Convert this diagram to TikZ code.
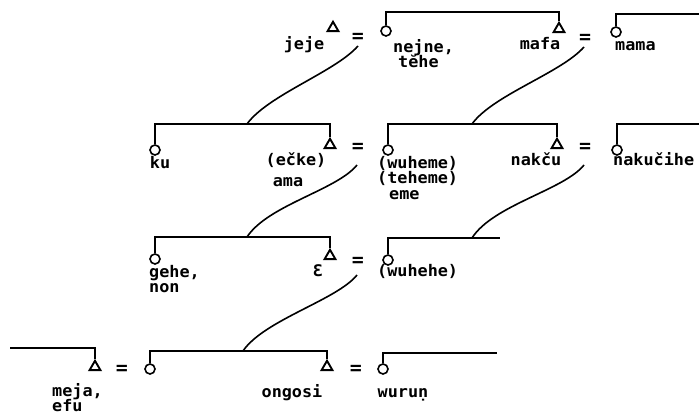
\documentclass[tikz,border=0pt]{standalone}
\usepackage{fontspec}
\newfontfamily\lblfont[FakeStretch=1.05,BoldFont={DejaVu Sans Mono Bold},BoldFeatures={FakeStretch=1.05}]{DejaVu Sans Mono}
\newcommand\lblsetup{\lblfont\bfseries\fontsize{16}{15.5}\selectfont\lineskiplimit=-100pt\relax\lineskip=0pt\relax}
\usetikzlibrary{shapes.geometric}
\begin{document}
\begin{tikzpicture}[x=1pt,y=-1pt,
  kin/.style={line width=1.8pt},
  fem/.style={circle,draw,line width=1.6pt,minimum size=10pt,inner sep=0pt},
  mal/.style={regular polygon,regular polygon sides=3,draw,line width=1.9pt,minimum size=12.5pt,inner sep=0pt},
  lbl/.style={font=\lblsetup,inner sep=0pt,align=left},
  eqs/.style={font=\lblfont\bfseries\fontsize{19}{19}\selectfont,inner sep=0pt},
  link/.style={line width=1.6pt}]
\useasboundingbox (0,0) rectangle (699,418);
% ---------- row 1
\node[mal] (t1) at (333,28) {};
\node[eqs] (e1) at (358,38) {=};
\node[fem] (c1) at (386,31) {};
\node[mal] (t2) at (559,29) {};
\node[eqs] (e2) at (585,39) {=};
\node[fem] (c2) at (616,32) {};
\coordinate (b1) at (470,12);
\coordinate (b2) at (699,14);
\draw[kin] (c1.north) -- (c1.north |- b1) -- (t2.north |- b1) -- (t2.north);
\draw[kin] (c2.north) -- (c2.north |- b2) -- (b2);
\node[lbl,anchor=base] (l1) at (304,49) {jeje};
\node[lbl,anchor=north west] (l2) at (393,39) {nejne,\\\hspace{5pt}tĕhe};
\node[lbl,anchor=base] (l4) at (540,49) {mafa};
\node[lbl,anchor=base west] (l5) at (615,50) {mama};
% ---------- row 2
\node[fem] (c3) at (155,150) {};
\node[mal] (t3) at (330,145) {};
\node[eqs] (e3) at (358,148) {=};
\node[fem] (c4) at (388,150) {};
\node[mal] (t4) at (557,145) {};
\node[eqs] (e4) at (585,148) {=};
\node[fem] (c5) at (617,150) {};
\coordinate (b3) at (247,124);
\coordinate (b4) at (472,124);
\coordinate (b5) at (699,124);
\draw[kin] (c3.north) -- (c3.north |- b3) -- (t3.north |- b3) -- (t3.north);
\draw[kin] (c4.north) -- (c4.north |- b4) -- (t4.north |- b4) -- (t4.north);
\draw[kin] (c5.north) -- (c5.north |- b5) -- (b5);
\node[lbl,anchor=base] (l6) at (160,168) {ku};
\node[lbl,anchor=base] (l7) at (296,165) {(ečke)};
\node[lbl,anchor=base] (l8) at (288,186) {ama};
\node[lbl,anchor=north west] (l9) at (377,156) {(wuheme)\\(teheme)\\\hspace{12pt}eme};
\node[lbl,anchor=base] (l12) at (536,165) {nakču};
\node[lbl,anchor=base west] (l13) at (613,165) {nakučihe};
% ---------- row 3
\node[fem] (c6) at (155,259) {};
\node[mal] (t5) at (330,256) {};
\node[eqs] (e5) at (358,262) {=};
\node[fem] (c7) at (388,260) {};
\coordinate (b6) at (247,237);
\coordinate (b7) at (472,238);
\coordinate (b7e) at (500,238);
\draw[kin] (c6.north) -- (c6.north |- b6) -- (t5.north |- b6) -- (t5.north);
\draw[kin] (c7.north) -- (c7.north |- b7) -- (b7e);
\node[lbl,anchor=north west] (l14) at (149,265) {gehe,\\non};
\node[lbl,anchor=base] (l16) at (318,276) {Ɛ};
\node[lbl,anchor=base west] (l17) at (377,276) {(wuhehe)};
% ---------- row 4
\coordinate (s0) at (10,348);
\node[mal] (t6) at (95,367) {};
\node[eqs] (e6) at (122,370) {=};
\node[fem] (c8) at (150,369) {};
\node[mal] (t7) at (327,367) {};
\node[eqs] (e7) at (356,370) {=};
\node[fem] (c9) at (383,369) {};
\coordinate (b8) at (243,351);
\coordinate (b9) at (497,353);
\draw[kin] (s0) -- (t6.north |- s0) -- (t6.north);
\draw[kin] (c8.north) -- (c8.north |- b8) -- (t7.north |- b8) -- (t7.north);
\draw[kin] (c9.north) -- (c9.north |- b9) -- (b9);
\node[lbl,anchor=north west] (l18) at (52,383) {meja,\\efu};
\node[lbl,anchor=base] (l20) at (292,397) {ongosi};
\node[lbl,anchor=base] (l21) at (403,397) {wuruṇ};
% ---------- descent links
\coordinate (d1) at (358,46);
\coordinate (d2) at (584,47);
\coordinate (d3) at (357,165);
\coordinate (d4) at (584,165);
\coordinate (d5) at (357,275);
\draw[link] (d1) .. controls (335,72) and (268,95) .. (b3);
\draw[link] (d2) .. controls (561,73) and (493,95) .. (b4);
\draw[link] (d3) .. controls (337,190) and (268,205) .. (b6);
\draw[link] (d4) .. controls (564,190) and (493,205) .. (b7);
\draw[link] (d5) .. controls (337,300) and (264,320) .. (b8);
\end{tikzpicture}
\end{document}
